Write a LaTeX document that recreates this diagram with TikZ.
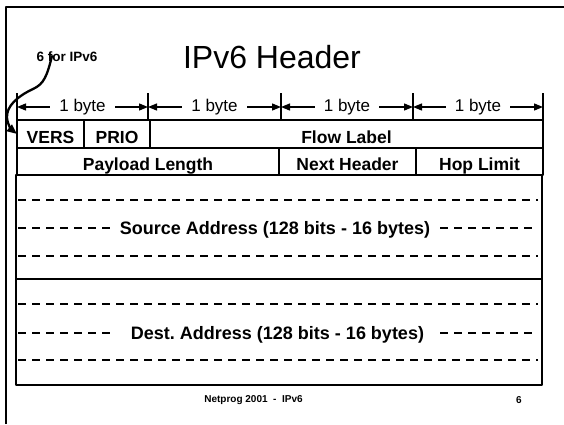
\documentclass[tikz,border=0pt]{standalone}
\usepackage{fontspec}
\setmainfont{Liberation Sans}
\usetikzlibrary{arrows.meta}
\frenchspacing

\begin{document}
\begin{tikzpicture}[line join=round, x=1pt, y=-1pt,
    field/.style={draw, line width=1.5pt, anchor=north west, inner sep=0pt, outer sep=0pt,
      text height=18.5pt, text depth=0pt, font=\bfseries\fontsize{17.5}{20}\selectfont},
    addrbox/.style={draw, line width=1.5pt, anchor=north west, outer sep=0pt, minimum width=526pt},
    addrlabel/.style={inner ysep=0pt, text height=13pt, text depth=0pt, font=\bfseries\fontsize{18}{21}\selectfont},
    addrdash/.style={line width=1.3pt, dash pattern=on 8pt off 6pt},
    bytearrow/.style={line width=1.3pt, {Triangle[length=9pt,width=7pt]}-{Triangle[length=9pt,width=7pt]}},
    bytelabel/.style={fill=white, inner xsep=9pt, inner ysep=1pt, font=\fontsize{17}{20}\selectfont},
    pointer/.style={line width=2.3pt, line cap=round, -{Triangle[length=10pt,width=8pt]}}]
  \useasboundingbox (0,0) rectangle (564,424);
  \draw[line width=2pt] (6,424) -- (6,7) -- (564,7);
  \node[anchor=base, font=\fontsize{32}{38}\selectfont] (title) at (272,68) {IPv6 Header};
  \node[anchor=base west, font=\bfseries\fontsize{13.5}{16}\selectfont] (six) at (33,61) {6 for IPv6};
  % byte ruler
  \foreach \i/\x in {0/17, 1/148, 2/281, 3/413, 4/543} {
    \draw[line width=1.3pt] (\x,93) -- (\x,120);
    \coordinate (t\i) at (\x,107);
  }
  \foreach \i/\j in {0/1, 1/2, 2/3, 3/4}
    \draw[bytearrow] (t\i) -- node[bytelabel] {1 byte} (t\j);
  % header fields
  \node[field, minimum width=67pt, minimum height=28pt] (vers) at (17,120) {VERS};
  \node[field, minimum width=66pt, minimum height=28pt] (prio) at (84,120) {PRIO};
  \node[field, minimum width=393pt, minimum height=28pt] (flow) at (150,120) {Flow Label};
  \node[field, minimum width=262pt, minimum height=27pt] (plen) at (17,148) {Payload Length};
  \node[field, minimum width=137pt, minimum height=27pt] (next) at (279,148) {Next Header};
  \node[field, minimum width=127pt, minimum height=27pt] (hop) at (416,148) {Hop Limit};
  % addresses
  \node[addrbox, minimum height=104pt] (src) at (16,175) {};
  \node[addrbox, minimum height=106pt] (dst) at (16,279) {};
  \foreach \y in {200, 256, 304, 360}
    \draw[addrdash] (18,\y) -- (538,\y);
  \node[addrlabel, inner xsep=10pt] (srclabel) at (275,228) {Source Address (128 bits - 16 bytes)};
  \node[addrlabel, inner xsep=16pt] (dstlabel) at (277.5,333) {Dest. Address (128 bits - 16 bytes)};
  \draw[addrdash] (18,228) -- (srclabel.west);
  \draw[addrdash] (srclabel.east) -- (538,228);
  \draw[addrdash] (18,333) -- (dstlabel.west);
  \draw[addrdash] (dstlabel.east) -- (538,333);
  % version pointer
  \coordinate (fstem) at (52,56);
  \draw[pointer] (fstem) .. controls (47,76) and (44,84) .. (33,89)
    .. controls (18,96) and (6,106) .. (7,118)
    .. controls (8,126) and (12,130) .. (vers.west);
  \node[font=\bfseries\fontsize{10}{12}\selectfont] (foot) at (253.5,400) {Netprog 2001\ \ -\ \ IPv6};
  \node[font=\bfseries\fontsize{10}{12}\selectfont] (page) at (519,400) {6};
\end{tikzpicture}
\end{document}
